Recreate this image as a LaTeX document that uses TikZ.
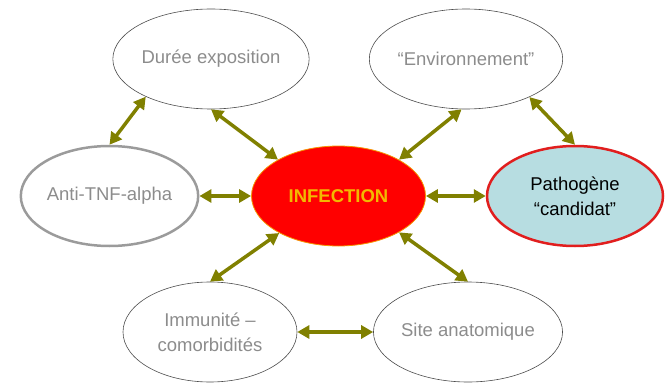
\documentclass[tikz,border=0pt]{standalone}
\usepackage{fontspec}
\setmainfont{Liberation Sans}
\usepackage{xcolor}
\usetikzlibrary{shapes,arrows.meta,positioning}

\definecolor{olivearrow}{RGB}{128,128,0}
\definecolor{textgray}{RGB}{140,140,140}
\definecolor{ringgray}{RGB}{155,155,155}
\definecolor{infectred}{RGB}{255,0,0}
\definecolor{infecttext}{RGB}{242,186,0}
\definecolor{pathblue}{RGB}{183,221,225}
\definecolor{pathred}{RGB}{225,30,30}

\begin{document}
\begin{tikzpicture}[
      x=1pt, y=-1pt,
      bubble/.style={ellipse, draw=black!70, line width=0.6pt, minimum width=174pt,
                     minimum height=100pt, inner sep=0pt, align=center,
                     font=\fontsize{18.5}{25}\selectfont, text=textgray},
      arrow/.style={{Triangle[length=12pt,width=13pt]}-{Triangle[length=12pt,width=13pt]},
                    line width=3.5pt, draw=olivearrow},
    ]
    \useasboundingbox (0,0) rectangle (666,385);

    \node[bubble] (duree)     at (211, 59)  {Durée exposition};
    \node[bubble] (env)       at (466, 59)  {“Environnement”};
    \node[bubble, draw=ringgray, line width=2.5pt] (antitnf) at (109.5, 196) {Anti-TNF-alpha};
    \node[bubble, fill=infectred, draw=infecttext!80!red, line width=0.8pt,
          text=infecttext, font=\fontsize{18.5}{25}\selectfont\bfseries] (infection) at (338.5, 196) {INFECTION};
    \node[bubble, fill=pathblue, draw=pathred, line width=2.5pt, text=black,
          minimum width=176pt] (pathogene) at (575, 196) {Pathogène\\“candidat”};
    \node[bubble] (immunite)  at (210, 332) {Immunité –\\comorbidités};
    \node[bubble] (site)      at (468, 332) {Site anatomique};

    \draw[arrow] (duree.210) -- (antitnf.north);
    \draw[arrow] (duree.south) -- (infection.149);
    \draw[arrow] (env.-95) -- (infection.31);
    \draw[arrow] (env.-31) -- (pathogene.north);
    \draw[arrow] (antitnf.east) -- (infection.west);
    \draw[arrow] (infection.east) -- (pathogene.west);
    \draw[arrow] (infection.212) -- (immunite.north);
    \draw[arrow] (infection.-31) -- (site.north);
    \draw[arrow] (immunite.east) -- (site.west);
  \end{tikzpicture}
\end{document}
